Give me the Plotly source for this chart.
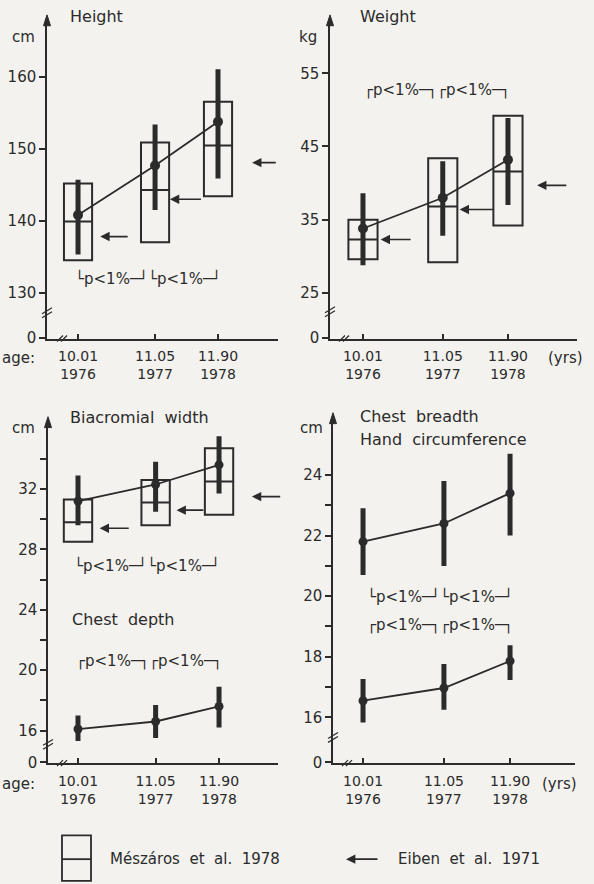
import plotly.graph_objects as go

W, H = 594, 884
INK = "#2b2b2b"
BG = "#f3f2ee"
FONT = "DejaVu Sans"

# ---------------- data ----------------
ages = [10.01, 11.05, 11.90]
age_labels = ["10.01", "11.05", "11.90"]
year_labels = ["1976", "1977", "1978"]

# Height (cm): present study mean and +-SD range
height_mean = [140.8, 147.7, 153.8]
height_hi = [145.7, 153.4, 161.1]
height_lo = [135.3, 141.5, 145.9]
# Meszaros et al. 1978 boxes
height_box_lo = [134.5, 137.0, 143.4]
height_box_mid = [139.9, 144.3, 150.5]
height_box_hi = [145.2, 150.9, 156.6]
# Eiben et al. 1971
height_eiben = [137.8, 143.0, 148.1]

# Weight (kg)
weight_mean = [33.8, 38.0, 43.2]
weight_hi = [38.6, 43.0, 48.9]
weight_lo = [28.8, 32.8, 37.0]
weight_box_lo = [29.6, 29.2, 34.2]
weight_box_mid = [32.3, 36.8, 41.6]
weight_box_hi = [35.0, 43.4, 49.2]
weight_eiben = [32.3, 36.4, 39.7]

# Biacromial width (cm)
biac_mean = [31.2, 32.3, 33.6]
biac_hi = [32.9, 33.8, 35.5]
biac_lo = [29.6, 30.5, 31.7]
biac_box_lo = [28.5, 29.6, 30.3]
biac_box_mid = [29.8, 31.1, 32.5]
biac_box_hi = [31.3, 32.6, 34.7]
biac_eiben = [29.4, 30.6, 31.5]

# Chest depth (cm)
chestd_mean = [16.1, 16.6, 17.6]
chestd_hi = [17.0, 17.7, 18.9]
chestd_lo = [15.3, 15.5, 16.2]

# Chest breadth (cm)
chestb_mean = [21.8, 22.4, 23.4]
chestb_hi = [22.9, 23.8, 24.7]
chestb_lo = [20.7, 21.0, 22.0]

# Hand circumference (cm)
hand_mean = [16.55, 16.97, 17.86]
hand_hi = [17.27, 17.76, 18.38]
hand_lo = [15.83, 16.25, 17.23]

sig_low = "\u2514p<1%\u2500\u2518\u2514p<1%\u2500\u2518"
sig_up = "\u250cp<1%\u2500\u2510\u250cp<1%\u2500\u2510"

# ---------------- layout helpers ----------------
def px(x):
    return x / W

def py(y):
    return 1 - y / H

# panel geometry in pixels: x domain, y domain(top,bottom), axis ranges
panels = {
    1: dict(xd=(47, 278), yd=(24, 342), xr=(9.591, 12.71), yr=(123.59, 167.45),
            yt=[130, 140, 150, 160], ytt=["130", "140", "150", "160"]),
    2: dict(xd=(330, 577), yd=(24, 342), xr=(9.580, 12.80), yr=(18.78, 61.76),
            yt=[25, 35, 45, 55], ytt=["25", "35", "45", "55"]),
    3: dict(xd=(48, 278), yd=(430, 771), xr=(9.608, 12.69), yr=(13.84, 36.20),
            yt=[16, 18, 20, 22, 24, 26, 28, 30, 32, 34],
            ytt=["16", "", "20", "", "24", "", "28", "", "32", ""]),
    4: dict(xd=(333, 575), yd=(426, 771), xr=(9.624, 12.735), yr=(14.49, 25.76),
            yt=[16, 17, 18, 19, 20, 21, 22, 23, 24],
            ytt=["16", "", "18", "", "20", "", "22", "", "24"]),
}

fig = go.Figure()


def add_box(i, lo, mid, hi):
    fig.add_trace(go.Box(
        x=ages, q1=lo, median=mid, q3=hi, lowerfence=lo, upperfence=hi,
        width=0.38, whiskerwidth=0, boxpoints=False,
        fillcolor="rgba(0,0,0,0)", line=dict(color=INK, width=2),
        xaxis=f"x{i}", yaxis=f"y{i}", showlegend=False, hoverinfo="skip"))


def add_means(i, mean, hi, lo, msize=9):
    fig.add_trace(go.Scatter(
        x=ages, y=mean, mode="lines+markers",
        line=dict(color=INK, width=1.8),
        marker=dict(color=INK, size=msize),
        error_y=dict(type="data", symmetric=False,
                     array=[h - m for h, m in zip(hi, mean)],
                     arrayminus=[m - l for m, l in zip(mean, lo)],
                     thickness=5, width=0, color=INK),
        xaxis=f"x{i}", yaxis=f"y{i}", showlegend=False, hoverinfo="skip"))


add_box(1, height_box_lo, height_box_mid, height_box_hi)
add_means(1, height_mean, height_hi, height_lo, 10)
add_box(2, weight_box_lo, weight_box_mid, weight_box_hi)
add_means(2, weight_mean, weight_hi, weight_lo, 10)
add_box(3, biac_box_lo, biac_box_mid, biac_box_hi)
add_means(3, biac_mean, biac_hi, biac_lo)
add_means(3, chestd_mean, chestd_hi, chestd_lo)
add_means(4, chestb_mean, chestb_hi, chestb_lo)
add_means(4, hand_mean, hand_hi, hand_lo)

annotations = []
shapes = []

# Eiben arrows (head/tail offsets from each age, in years)
arrow_offsets = {
    1: ([0.30, 0.20, 0.46], [0.69, 0.64, 0.80]),
    2: ([0.23, 0.22, 0.38], [0.64, 0.68, 0.78]),
    3: ([0.29, 0.28, 0.44], [0.70, 0.66, 0.84]),
}
eiben = {1: height_eiben, 2: weight_eiben, 3: biac_eiben}
for i, vals in eiben.items():
    heads, tails = arrow_offsets[i]
    for a, v, h, t in zip(ages, vals, heads, tails):
        annotations.append(dict(
            x=a + h, y=v, ax=a + t, ay=v, xref=f"x{i}", yref=f"y{i}",
            axref=f"x{i}", ayref=f"y{i}", text="", showarrow=True,
            arrowhead=2, arrowsize=1.1, arrowwidth=1.7, arrowcolor=INK,
            standoff=0, startstandoff=0))

tickfont = dict(family=FONT, size=15, color=INK)
for i, p in panels.items():
    zero = p["yr"][0] + 0.002 * (p["yr"][1] - p["yr"][0])
    fig.layout[f"xaxis{i}"] = dict(
        domain=[px(p["xd"][0]), px(p["xd"][1])], range=list(p["xr"]),
        anchor=f"y{i}", showline=True, linecolor=INK, linewidth=1.5,
        ticks="inside", ticklen=5, tickwidth=1.5, tickcolor=INK,
        tickvals=ages, ticklabelstandoff=4,
        ticktext=[f"{a}<br>{y}" for a, y in zip(age_labels, year_labels)],
        tickfont=dict(family=FONT, size=14, color=INK),
        showgrid=False, zeroline=False, fixedrange=True)
    fig.layout[f"yaxis{i}"] = dict(
        domain=[py(p["yd"][1]), py(p["yd"][0])], range=list(p["yr"]),
        anchor=f"x{i}", showline=True, linecolor=INK, linewidth=1.5,
        ticks="outside", ticklen=6, tickwidth=1.5, tickcolor=INK,
        tickvals=[zero] + p["yt"], ticktext=["0"] + p["ytt"],
        tickfont=tickfont, showgrid=False, zeroline=False, fixedrange=True)
    # arrow tip on y axis
    ax0 = p["xd"][0]
    top = p["yd"][0]
    shapes.append(dict(
        type="path", xref="paper", yref="paper",
        path=f"M {px(ax0-3.5)} {py(top+2)} L {px(ax0)} {py(top-9)} L {px(ax0+3.5)} {py(top+2)} Z",
        fillcolor=INK, line=dict(color=INK, width=1)))

# axis break marks (pixel positions)
breaks = [
    (60, 342, 314, 47),
    (342, 342, 313, 330),
    (60, 771, 750, 48),
    (345, 771, 743, 333),
]
for bx, by, yy, yx in breaks:
    for d in (0, 4):
        shapes.append(dict(type="line", xref="paper", yref="paper",
                           x0=px(bx - 3 + d), y0=py(by + 3), x1=px(bx + 3 + d), y1=py(by - 3),
                           line=dict(color=INK, width=1.2)))
        shapes.append(dict(type="line", xref="paper", yref="paper",
                           x0=px(yx - 5), y0=py(yy + 3 + d), x1=px(yx + 5), y1=py(yy - 3 + d),
                           line=dict(color=INK, width=1.2)))


def label(text, x, y, size=16, anchor="left"):
    annotations.append(dict(text=text, x=px(x), y=py(y), xref="paper", yref="paper",
                            xanchor=anchor, yanchor="middle", showarrow=False,
                            font=dict(family=FONT, size=size, color=INK)))


label("Height", 68, 17)
label("cm", 10, 37, 15)
label("Weight", 358, 17)
label("kg", 297, 37, 15)
label("age:", 0, 362, 15)
label("(yrs)", 546, 362, 15)
label(sig_low, 148, 281, 15, "center")
label(sig_up, 437, 91, 15, "center")

label("Biacromial  width", 68, 422)
label("cm", 10, 432, 15)
label(sig_low, 147, 571, 15, "center")
label("Chest  depth", 70, 626)
label(sig_up, 149, 668, 15, "center")
label("age:", 0, 792, 15)

label("Chest  breadth", 358, 421)
label("Hand  circumference", 358, 444)
label("cm", 298, 432, 15)
label(sig_low, 440, 603, 15, "center")
label(sig_up, 440, 631, 15, "center")
label("(yrs)", 540, 792, 15)

# legend
shapes.append(dict(type="rect", xref="paper", yref="paper",
                   x0=px(62), x1=px(91), y0=py(844), y1=py(890),
                   line=dict(color=INK, width=1.8)))
shapes.append(dict(type="line", xref="paper", yref="paper",
                   x0=px(62), x1=px(91), y0=py(868), y1=py(868),
                   line=dict(color=INK, width=1.8)))
label("Mészáros  et  al.  1978", 108, 868, 15)
annotations.append(dict(x=px(346), y=py(868), ax=33, ay=0,
                        xref="paper", yref="paper", axref="pixel", ayref="pixel",
                        text="", showarrow=True, arrowhead=2, arrowsize=1.1,
                        arrowwidth=1.7, arrowcolor=INK, standoff=0))
label("Eiben  et  al.  1971", 396, 868, 15)

fig.update_layout(
    width=W, height=H, margin=dict(l=0, r=0, t=0, b=0),
    paper_bgcolor=BG, plot_bgcolor=BG,
    font=dict(family=FONT, color=INK),
    showlegend=False, annotations=annotations, shapes=shapes)

fig.write_html("out.html")
